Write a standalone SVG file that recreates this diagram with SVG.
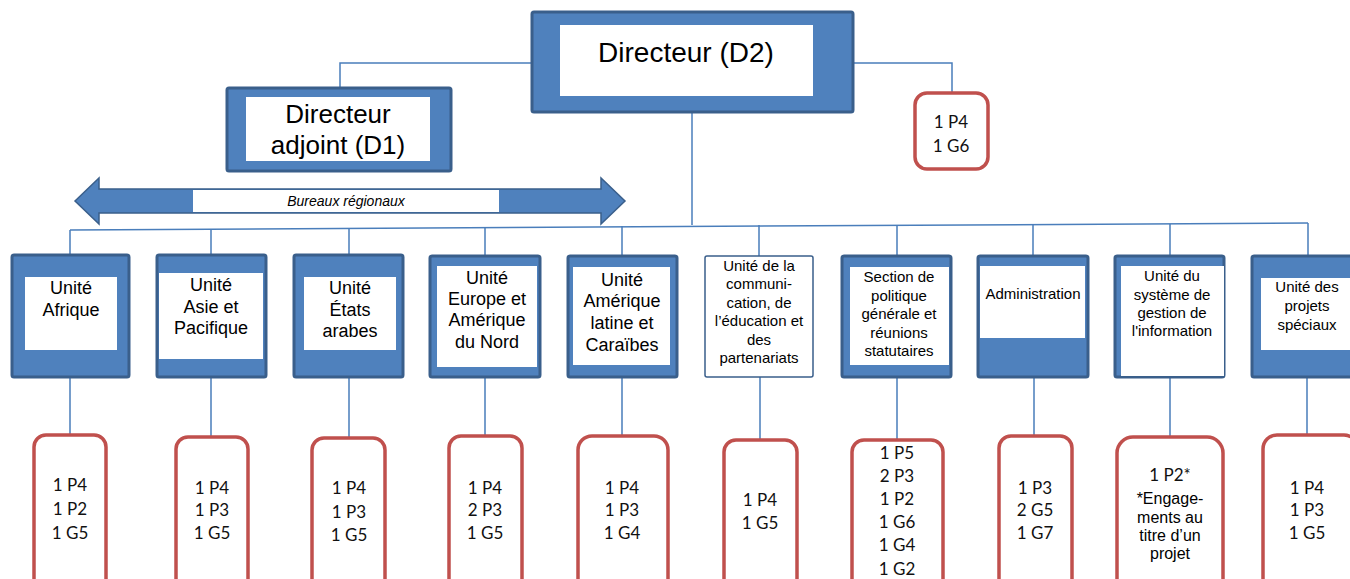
<svg xmlns="http://www.w3.org/2000/svg" width="1350" height="579" viewBox="0 0 1350 579">
<style>
.box{fill:#4F81BD;stroke:#3A5F8B;stroke-width:3}
.inner{fill:#fff}
.wbox{fill:#fff;stroke:#3A5F8B;stroke-width:1.5}
.red{fill:#fff;stroke:#C0504D;stroke-width:3.5}
.con{fill:none;stroke:#4A7EBB;stroke-width:1.5}
.t{font-family:"Liberation Sans",Arial,sans-serif;fill:#000;text-anchor:middle}
.n{font-family:Lato,"Noto Sans",sans-serif;font-size:17px;fill:#111;text-anchor:middle}
</style>
<rect width="1350" height="579" fill="#fff"/>
<g id="connectors">
<path class="con" d="M532,63 H340 V88"/>
<path class="con" d="M853,63 H952 V93"/>
<path class="con" d="M692,113 V225"/>
<path class="con" d="M70,230 L1308,223"/>
<path class="con" d="M70,230 V255 M211,229 V255 M349,228 V255 M485,227 V256 M622,226 V256 M759,225 V256 M897,225 V256 M1033,224 V256 M1170,224 V256 M1308,223 V256"/>
<path class="con" d="M70,377 V435 M211,377 V437 M349,377 V438 M485,377 V436 M622,377 V436 M760,377 V440 M897,377 V440 M1034,377 V436 M1170,377 V437 M1307,377 V435"/>
</g>
<g id="d2">
<rect class="box" x="532" y="12" width="321" height="100" rx="2"/>
<rect class="inner" x="560" y="25" width="253" height="71"/>
<text class="t" x="686" y="62" font-size="28">Directeur (D2)</text>
</g>
<g id="d1">
<rect class="box" x="227" y="88" width="224" height="83" rx="2"/>
<rect class="inner" x="246" y="97" width="184" height="64"/>
<text class="t" x="338" y="123" font-size="26">Directeur</text>
<text class="t" x="338" y="154" font-size="26">adjoint (D1)</text>
</g>
<g id="d2-staff">
<rect class="red" x="915" y="93" width="73" height="76" rx="12"/>
<text class="n" x="951" y="128">1 P4</text>
<text class="n" x="951" y="152">1 G6</text>
</g>
<g id="bureaux">
<polygon points="75,201 99,178 99,189 601,189 601,178 625,201 601,224 601,213 99,213 99,224" fill="#4F81BD" stroke="#3A5F8B" stroke-width="1.5"/>
<rect class="inner" x="193" y="190" width="306" height="22"/>
<text class="t" x="346" y="206" font-size="14" font-style="italic">Bureaux régionaux</text>
</g>
<g id="u-afrique">
<rect class="box" x="12" y="255" width="117" height="122" rx="2"/>
<rect class="inner" x="25" y="277" width="92" height="73"/>
<text class="t" x="71" y="294" font-size="18">Unité</text>
<text class="t" x="71" y="316" font-size="18">Afrique</text>
</g>
<g id="u-asie">
<rect class="box" x="157" y="255" width="109" height="122" rx="2"/>
<rect class="inner" x="159" y="273" width="104" height="86"/>
<text class="t" x="211" y="291" font-size="18">Unité</text>
<text class="t" x="211" y="313" font-size="18">Asie et</text>
<text class="t" x="211" y="334" font-size="18">Pacifique</text>
</g>
<g id="u-arabes">
<rect class="box" x="294" y="255" width="109" height="122" rx="2"/>
<rect class="inner" x="304" y="277" width="92" height="73"/>
<text class="t" x="350" y="294" font-size="18">Unité</text>
<text class="t" x="350" y="316" font-size="18">États</text>
<text class="t" x="350" y="337" font-size="18">arabes</text>
</g>
<g id="u-europe">
<rect class="box" x="430" y="256" width="110" height="121" rx="2"/>
<rect class="inner" x="437" y="266" width="100" height="101"/>
<text class="t" x="487" y="284" font-size="18">Unité</text>
<text class="t" x="487" y="305" font-size="18">Europe et</text>
<text class="t" x="487" y="326" font-size="18">Amérique</text>
<text class="t" x="487" y="348" font-size="18">du Nord</text>
</g>
<g id="u-amerique">
<rect class="box" x="568" y="256" width="109" height="121" rx="2"/>
<rect class="inner" x="573" y="267" width="97" height="98"/>
<text class="t" x="622" y="286" font-size="18">Unité</text>
<text class="t" x="622" y="307" font-size="18">Amérique</text>
<text class="t" x="622" y="329" font-size="18">latine et</text>
<text class="t" x="622" y="351" font-size="18">Caraïbes</text>
</g>
<g id="u-communication">
<rect class="wbox" x="705" y="256" width="108" height="121" rx="2"/>
<text class="t" x="759" y="271" font-size="15">Unité de la</text>
<text class="t" x="759" y="289" font-size="15">communi-</text>
<text class="t" x="759" y="308" font-size="15">cation, de</text>
<text class="t" x="759" y="326" font-size="15">l’éducation et</text>
<text class="t" x="759" y="345" font-size="15">des</text>
<text class="t" x="759" y="363" font-size="15">partenariats</text>
</g>
<g id="u-section">
<rect class="box" x="842" y="256" width="109" height="121" rx="2"/>
<rect class="inner" x="850" y="267" width="99" height="98"/>
<text class="t" x="899" y="282" font-size="15">Section de</text>
<text class="t" x="899" y="301" font-size="15">politique</text>
<text class="t" x="899" y="319" font-size="15">générale et</text>
<text class="t" x="899" y="338" font-size="15">réunions</text>
<text class="t" x="899" y="356" font-size="15">statutaires</text>
</g>
<g id="u-administration">
<rect class="box" x="978" y="256" width="110" height="121" rx="2"/>
<rect class="inner" x="980" y="266" width="105" height="72"/>
<text class="t" x="1033" y="299" font-size="15">Administration</text>
</g>
<g id="u-systeme">
<rect class="box" x="1115" y="256" width="109" height="121" rx="2"/>
<rect class="inner" x="1121" y="266" width="103" height="110"/>
<text class="t" x="1172" y="281" font-size="15">Unité du</text>
<text class="t" x="1172" y="300" font-size="15">système de</text>
<text class="t" x="1172" y="318" font-size="15">gestion de</text>
<text class="t" x="1172" y="336" font-size="15">l'information</text>
</g>
<g id="u-projets">
<rect class="box" x="1252" y="256" width="104" height="121" rx="2"/>
<rect class="inner" x="1261" y="278" width="89" height="72"/>
<text class="t" x="1307" y="292" font-size="15">Unité des</text>
<text class="t" x="1307" y="311" font-size="15">projets</text>
<text class="t" x="1307" y="330" font-size="15">spéciaux</text>
</g>
<g id="s-afrique">
<rect class="red" x="34" y="435" width="72" height="160" rx="12"/>
<text class="n" x="70" y="491">1 P4</text>
<text class="n" x="70" y="515">1 P2</text>
<text class="n" x="70" y="539">1 G5</text>
</g>
<g id="s-asie">
<rect class="red" x="176" y="437" width="72" height="160" rx="12"/>
<text class="n" x="212" y="494">1 P4</text>
<text class="n" x="212" y="516">1 P3</text>
<text class="n" x="212" y="539">1 G5</text>
</g>
<g id="s-arabes">
<rect class="red" x="312" y="438" width="73" height="160" rx="12"/>
<text class="n" x="349" y="494">1 P4</text>
<text class="n" x="349" y="518">1 P3</text>
<text class="n" x="349" y="541">1 G5</text>
</g>
<g id="s-europe">
<rect class="red" x="449" y="436" width="73" height="160" rx="12"/>
<text class="n" x="485" y="494">1 P4</text>
<text class="n" x="485" y="516">2 P3</text>
<text class="n" x="485" y="539">1 G5</text>
</g>
<g id="s-amerique">
<rect class="red" x="578" y="436" width="90" height="160" rx="14"/>
<text class="n" x="622" y="494">1 P4</text>
<text class="n" x="622" y="516">1 P3</text>
<text class="n" x="622" y="539">1 G4</text>
</g>
<g id="s-communication">
<rect class="red" x="724" y="440" width="73" height="160" rx="12"/>
<text class="n" x="760" y="506">1 P4</text>
<text class="n" x="760" y="529">1 G5</text>
</g>
<g id="s-section">
<rect class="red" x="852" y="440" width="91" height="160" rx="12"/>
<text class="n" x="897" y="459">1 P5</text>
<text class="n" x="897" y="482">2 P3</text>
<text class="n" x="897" y="505">1 P2</text>
<text class="n" x="897" y="528">1 G6</text>
<text class="n" x="897" y="551">1 G4</text>
<text class="n" x="897" y="575">1 G2</text>
</g>
<g id="s-administration">
<rect class="red" x="999" y="436" width="73" height="160" rx="12"/>
<text class="n" x="1035" y="494">1 P3</text>
<text class="n" x="1035" y="516">2 G5</text>
<text class="n" x="1035" y="539">1 G7</text>
</g>
<g id="s-systeme">
<rect class="red" x="1117" y="437" width="106" height="160" rx="16"/>
<text class="n" x="1170" y="481">1 P2*</text>
<text class="t" x="1170" y="504" font-size="16">*Engage-</text>
<text class="t" x="1170" y="523" font-size="16">ments au</text>
<text class="t" x="1170" y="541" font-size="16">titre d’un</text>
<text class="t" x="1170" y="559" font-size="16">projet</text>
</g>
<g id="s-projets">
<rect class="red" x="1263" y="435" width="95" height="160" rx="14"/>
<text class="n" x="1307" y="494">1 P4</text>
<text class="n" x="1307" y="516">1 P3</text>
<text class="n" x="1307" y="539">1 G5</text>
</g>
</svg>
